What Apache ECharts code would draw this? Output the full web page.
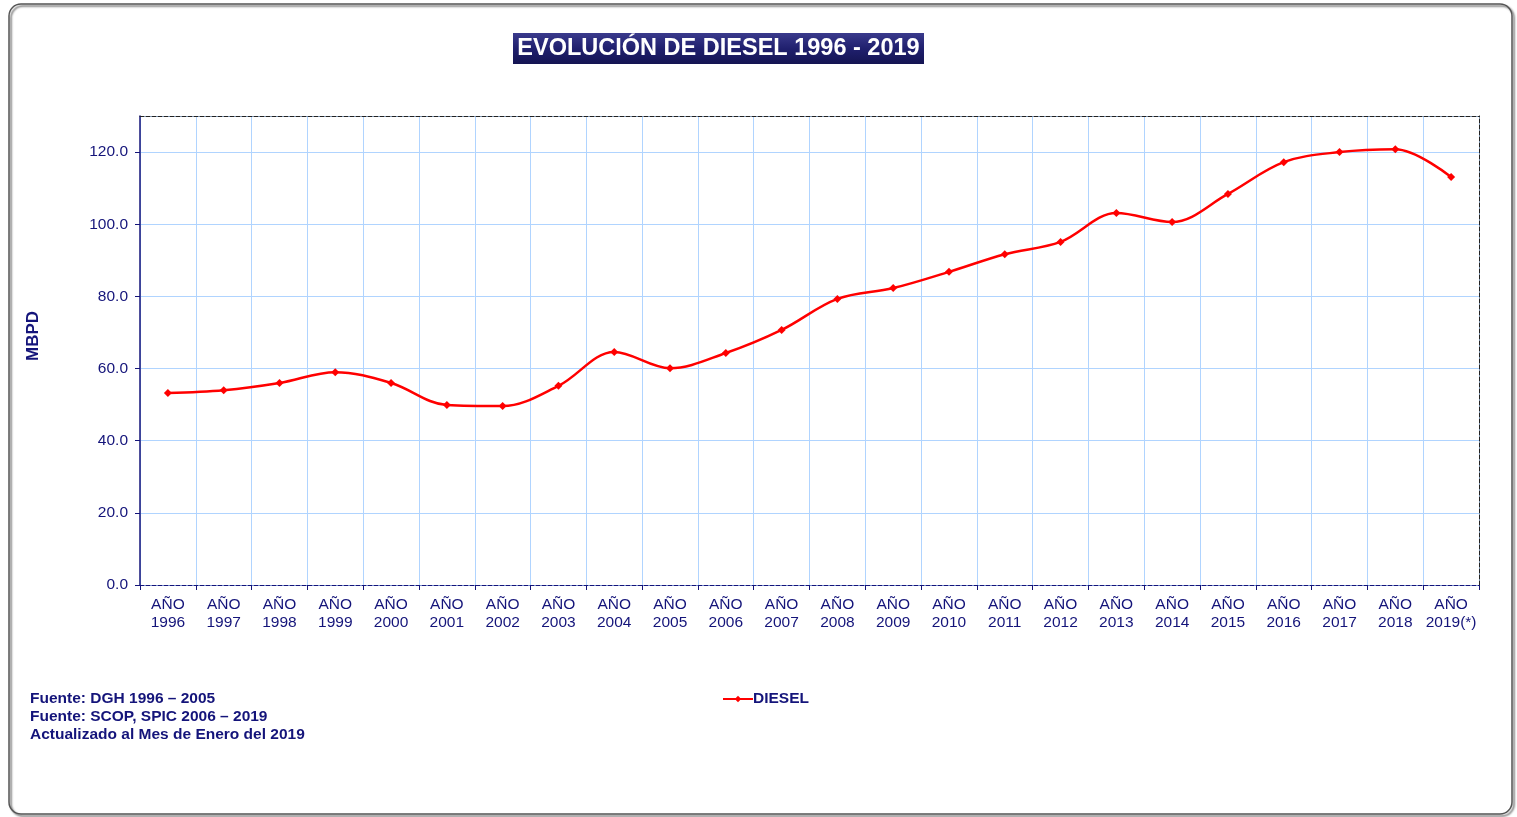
<!DOCTYPE html>
<html>
<head>
<meta charset="utf-8">
<script src="https://cdn.jsdelivr.net/npm/echarts@6/dist/echarts.min.js"></script>
<style>
  html, body { margin: 0; padding: 0; background: #fff; }
  #chart { width: 1517px; height: 817px; }
</style>
</head>
<body>
<div id="chart"></div>
<script>
const years = ['1996', '1997', '1998', '1999', '2000', '2001', '2002', '2003', '2004', '2005', '2006', '2007',
  '2008', '2009', '2010', '2011', '2012', '2013', '2014', '2015', '2016', '2017', '2018', '2019(*)']
const diesel = [53.2, 54.0, 56.0, 59.0, 56.0, 49.9, 49.6, 55.2, 64.6, 60.1, 64.3, 70.7,
  79.3, 82.3, 86.8, 91.7, 95.1, 103.1, 100.6, 108.4, 117.2, 120.0, 120.8, 113.1]
const notes = ['Fuente: DGH 1996 – 2005', 'Fuente: SCOP, SPIC 2006 – 2019', 'Actualizado al Mes de Enero del 2019']

const navy = '#14147a'
const font = 'Liberation Sans, Arial, sans-serif'

let myChart = echarts.init(document.getElementById('chart'))

myChart.setOption({
  animation: false,
  textStyle: { fontFamily: font },
  graphic: [
    {
      type: 'rect',
      shape: { x: 9, y: 4, width: 1503, height: 810, r: 12 },
      style: { fill: 'none', stroke: '#555', lineWidth: 1.5, shadowColor: 'rgba(0,0,0,0.6)', shadowOffsetX: 2, shadowOffsetY: 2, shadowBlur: 2 }
    },
    {
      type: 'rect',
      shape: { x: 513, y: 33, width: 411, height: 31 },
      style: {
        fill: new echarts.graphic.LinearGradient(0, 0, 0, 1, [
          { offset: 0, color: '#3a3a8c' },
          { offset: 0.5, color: '#20206e' },
          { offset: 1, color: '#141452' }
        ])
      }
    },
    {
      type: 'text',
      x: 718.5, y: 49,
      style: { text: 'EVOLUCIÓN DE DIESEL 1996 - 2019', fill: '#fff', font: 'bold 23.5px ' + font, align: 'center', verticalAlign: 'middle' }
    },
    {
      type: 'text',
      x: 33, y: 336,
      rotation: Math.PI / 2,
      style: { text: 'MBPD', fill: navy, font: 'bold 17px ' + font, align: 'center', verticalAlign: 'middle' }
    },
    {
      type: 'text',
      left: 30, top: 690,
      style: { text: notes.join('\n'), fill: navy, font: 'bold 15.5px ' + font, lineHeight: 18 }
    }
  ],
  legend: {
    left: 717, top: 686,
    itemWidth: 30, itemHeight: 8, itemGap: 0,
    textStyle: { color: navy, fontWeight: 'bold', fontSize: 15.5, padding: [0, 0, 0, -5] },
    data: ['DIESEL']
  },
  grid: {
    left: 140, right: 38, top: 116, bottom: 232,
    show: false
  },
  xAxis: [{
    type: 'category',
    data: years,
    boundaryGap: true,
    axisLine: { lineStyle: { color: navy, type: 'dashed' } },
    axisTick: { show: true, length: 5, interval: 0, lineStyle: { color: navy } },
    axisLabel: { color: navy, fontSize: 15.5, lineHeight: 18, margin: 11, interval: 0, formatter: v => 'AÑO\n' + v },
    splitLine: { show: true, interval: 0, lineStyle: { color: '#b0d4ff', width: 1 } }
  }, {
    type: 'category',
    data: years,
    position: 'top',
    axisLine: { show: true, onZero: false, lineStyle: { color: '#222', type: 'dashed' } },
    axisTick: { show: false },
    axisLabel: { show: false },
    z: 5
  }],
  yAxis: [{
    type: 'value',
    min: 0, max: 130, interval: 20,
    axisLine: { show: true, lineStyle: { color: navy, width: 1.5 } },
    axisTick: { show: true, length: 5, lineStyle: { color: navy } },
    axisLabel: { color: navy, fontSize: 15.5, margin: 12, showMaxLabel: false, formatter: v => v.toFixed(1) },
    splitLine: { show: true, lineStyle: { color: '#b0d4ff', width: 1 } }
  }, {
    type: 'value',
    min: 0, max: 130, interval: 20,
    position: 'right',
    axisLine: { show: true, onZero: false, lineStyle: { color: '#222', type: 'dashed' } },
    axisTick: { show: false },
    axisLabel: { show: false },
    splitLine: { show: false },
    z: 5
  }],
  series: [{
    name: 'DIESEL',
    type: 'line',
    data: diesel,
    smooth: 0.35,
    symbol: 'diamond',
    symbolSize: 8,
    lineStyle: { color: '#ff0000', width: 2.5 },
    itemStyle: { color: '#ff0000' }
  }]
})
</script>
</body>
</html>
